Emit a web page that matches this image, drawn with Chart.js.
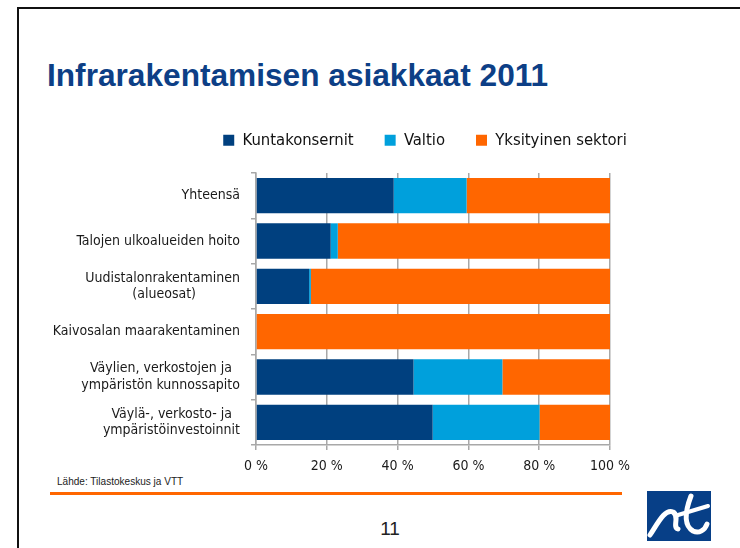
<!DOCTYPE html>
<html>
<head>
<meta charset="utf-8">
<script src="https://cdn.jsdelivr.net/npm/chart.js@4.4.1/dist/chart.umd.min.js"></script>
<style>
  body { margin: 0; width: 740px; height: 548px; background: #fff; overflow: hidden; position: relative; }
  #frame { position: absolute; left: 17px; top: 7px; width: 740px; height: 560px; border-top: 2px solid #111; border-left: 2px solid #111; }
  .txt { position: absolute; white-space: nowrap; font-family: "Liberation Sans Narrow", "Liberation Sans", Arial, sans-serif; transform-origin: 0 0; }
  #title { left: 47px; top: 60px; font-size: 31px; line-height: 32px; font-weight: bold; color: #0d3f86; }
  #source { left: 57px; top: 475px; font-size: 11px; line-height: 12px; color: #222; }
  #page { left: 370px; top: 519px; width: 40px; text-align: center; font-size: 19px; line-height: 20px; color: #222; }
  #rule { position: absolute; left: 50px; top: 492px; width: 572px; height: 3px; background: #ff6600; }
  #wrap { position: absolute; left: 0; top: 90px; width: 740px; height: 400px; }
  #logo { position: absolute; left: 647px; top: 491px; }
</style>
</head>
<body>
<div id="frame"></div>
<div id="title" class="txt">Infrarakentamisen asiakkaat 2011</div>
<div id="source" class="txt">Lähde: Tilastokeskus ja VTT</div>
<div id="rule"></div>
<div id="page" class="txt">11</div>
<canvas id="logo" width="64" height="50"></canvas>
<div id="wrap"><canvas id="chart"></canvas></div>
<script>
// categories, top to bottom
const categories = [
    'Yhteensä',
    'Talojen ulkoalueiden hoito',
    ['Uudistalonrakentaminen', '(alueosat)'],
    'Kaivosalan maarakentaminen',
    ['Väylien, verkostojen ja', 'ympäristön kunnossapito'],
    ['Väylä-, verkosto- ja', 'ympäristöinvestoinnit']
];
const seriesNames = ['Kuntakonsernit', 'Valtio', 'Yksityinen sektori'];
// shares in percent
const kunta = [38.9, 21.1, 15.0, 0, 44.5, 49.9];
const valtio = [20.6, 2.0, 0.5, 0, 25.1, 30.2];
const yksityinen = [40.5, 76.9, 84.5, 100, 30.4, 19.9];
const xTicks = [0, 20, 40, 60, 80, 100];

const colors = ['#00407f', '#00a0dc', '#ff6600'];
const labelFont = { family: '"DejaVu Sans Condensed", "DejaVu Sans", sans-serif', size: 14 };

// squeeze text boxes to the width they have on the slide
function fitWidth(id, w) {
    const el = document.getElementById(id);
    el.style.transform = 'scaleX(' + (w / el.offsetWidth) + ')';
}
fitWidth('title', 501);
fitWidth('source', 126);

// logo
(function () {
    const c = document.getElementById('logo').getContext('2d');
    c.fillStyle = '#073f87';
    c.fillRect(0, 0, 64, 50);
    c.strokeStyle = '#fff';
    c.lineCap = 'round';
    c.lineWidth = 5;
    c.beginPath();
    c.moveTo(3, 44);
    c.bezierCurveTo(12, 30, 18, 18, 26, 21);
    c.bezierCurveTo(33, 25, 25, 36, 31, 38);
    c.stroke();
    c.beginPath();
    c.moveTo(44, 5);
    c.bezierCurveTo(39, 18, 36, 34, 46, 40);
    c.bezierCurveTo(52, 43, 58, 39, 60, 33);
    c.stroke();
    c.lineWidth = 4;
    c.beginPath();
    c.moveTo(31, 24);
    c.lineTo(61, 15);
    c.stroke();
})();

// center the lines of a two-line label under each other
const measure = document.createElement('canvas').getContext('2d');
measure.font = labelFont.size + 'px ' + labelFont.family;
function centerLines(lab) {
    if (!Array.isArray(lab)) return lab;
    const widths = lab.map(function (s) { return measure.measureText(s).width; });
    const maxW = Math.max.apply(null, widths);
    const sp = measure.measureText('\u00a0').width;
    return lab.map(function (s, i) {
        const n = Math.round((maxW - widths[i]) / 2 / sp);
        return s + '\u00a0'.repeat(n);
    });
}

const values = [kunta, valtio, yksityinen];
const datasets = seriesNames.map(function (name, i) {
    return {
        label: name,
        data: values[i],
        backgroundColor: colors[i],
        borderWidth: 0,
        barPercentage: 0.78,
        categoryPercentage: 1
    };
});

// legend: fixed height, centred over x = 425 like on the slide
const legendPlace = {
    id: 'legendPlace',
    beforeInit: function (chart) {
        const orig = chart.legend.fit;
        chart.legend.fit = function () {
            orig.call(this);
            this.height = 72;
        };
    },
    afterLayout: function (chart) {
        const lg = chart.legend;
        const shift = 425 - (lg.left + lg.right) / 2;
        lg.left += shift;
        lg.right += shift;
    }
};

const ctx = document.getElementById('chart').getContext('2d');
const chart = new Chart(ctx, {
    type: 'bar',
    data: { labels: categories, datasets: datasets },
    plugins: [legendPlace],
    options: {
        indexAxis: 'y',
        responsive: true,
        maintainAspectRatio: false,
        animation: false,
        layout: { padding: { left: 0, right: 130, top: 11, bottom: 10 } },
        plugins: {
            legend: {
                position: 'top',
                labels: {
                    boxWidth: 11,
                    boxHeight: 11,
                    padding: 31,
                    color: '#111',
                    font: { family: '"DejaVu Sans Condensed", "DejaVu Sans", sans-serif', size: 16.5 }
                }
            },
            tooltip: { enabled: false }
        },
        scales: {
            x: {
                stacked: true,
                min: 0,
                max: 100,
                afterBuildTicks: function (scale) {
                    scale.ticks = xTicks.map(function (v) { return { value: v }; });
                },
                afterFit: function (scale) { scale.height = 35; },
                grid: { color: '#a8a8a8', lineWidth: 1.5, tickLength: 5 },
                border: { color: '#a8a8a8', width: 1.5 },
                ticks: {
                    padding: 8,
                    color: '#1a1a1a',
                    font: labelFont,
                    maxRotation: 0,
                    callback: function (v) { return v + ' %'; }
                }
            },
            y: {
                stacked: true,
                afterFit: function (scale) { scale.width = 256; },
                grid: { drawOnChartArea: false, color: '#a8a8a8', lineWidth: 1.5, tickLength: 5 },
                border: { color: '#a8a8a8', width: 1.5 },
                ticks: {
                    padding: 11,
                    color: '#1a1a1a',
                    font: labelFont,
                    callback: function (v) { return centerLines(this.getLabelForValue(v)); }
                }
            }
        }
    }
});
</script>
</body>
</html>
